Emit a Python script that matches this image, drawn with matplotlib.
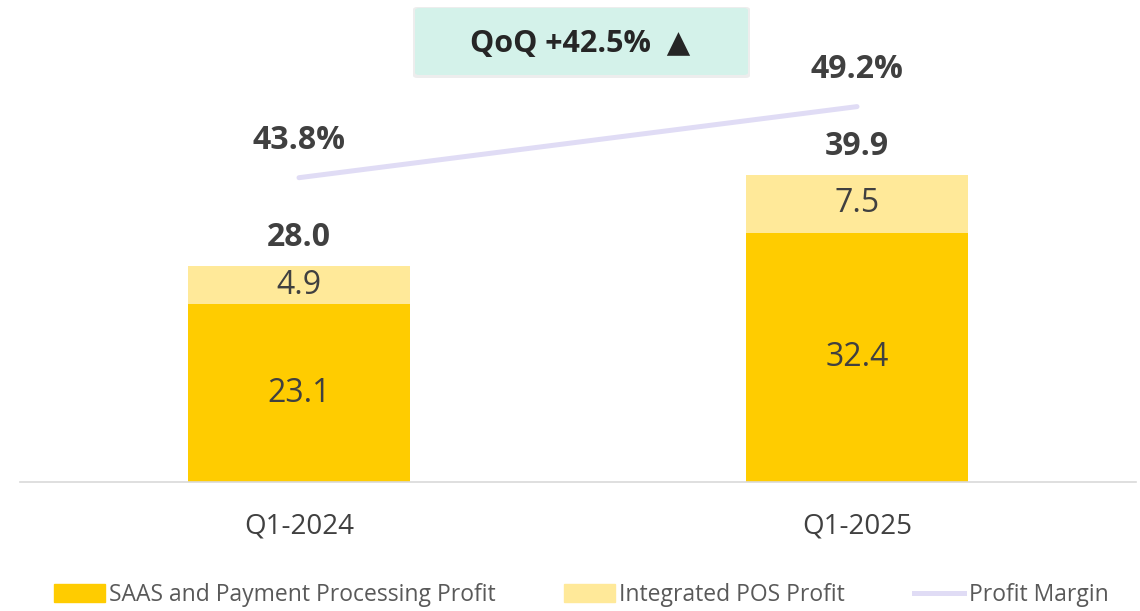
import matplotlib.pyplot as plt
from matplotlib.patches import Patch, FancyBboxPatch
from matplotlib.lines import Line2D

# data
quarters = ["Q1-2024", "Q1-2025"]
saas_profit = [23.1, 32.4]
pos_profit = [4.9, 7.5]
total_profit = [28.0, 39.9]
profit_margin = [43.8, 49.2]
qoq_text = "QoQ +42.5%  \u25B2"

c_saas = "#FFCC00"
c_pos = "#FFE999"
c_line = "#E0DCF5"
c_text = "#404040"

plt.rcParams['font.family'] = ['Open Sans', 'DejaVu Sans']

fig = plt.figure(figsize=(11.4, 6.11), dpi=100)
ax = fig.add_axes([20 / 1140, 129 / 611, 1116 / 1140, 482 / 611])
x = list(range(len(quarters)))
w = 0.398

ax.bar(x, saas_profit, width=w, color=c_saas)
ax.bar(x, pos_profit, width=w, bottom=saas_profit, color=c_pos)
ax.set_xlim(-0.5, 1.5)
ax.set_ylim(0, 62.6)

for i in x:
    ax.text(i, saas_profit[i] / 2, f"{saas_profit[i]:.1f}", ha="center", va="center",
            fontsize=23, color=c_text)
    ax.text(i, saas_profit[i] + pos_profit[i] / 2, f"{pos_profit[i]:.1f}", ha="center",
            va="center", fontsize=23, color=c_text)
    ax.text(i, total_profit[i] + 3.7, f"{total_profit[i]:.1f}", ha="center", va="center",
            fontsize=23, fontweight="bold", color=c_text)

# profit margin on secondary axis
ax2 = ax.twinx()
ax2.plot(x, profit_margin, color=c_line, linewidth=3.6, solid_capstyle="round")
ax2.set_ylim(20.68, 57.3)
for i in x:
    ax2.text(i, profit_margin[i] + 2.85, f"{profit_margin[i]:.1f}%", ha="center", va="center",
             fontsize=23, fontweight="bold", color=c_text)

for a in (ax, ax2):
    for s in ["top", "right", "left"]:
        a.spines[s].set_visible(False)
    a.set_yticks([])
ax2.spines["bottom"].set_visible(False)
ax.spines["bottom"].set_color("#D9D9D9")
ax.spines["bottom"].set_linewidth(1.2)
ax.set_xticks(x)
ax.set_xticklabels(quarters, fontsize=20, color=c_text)
ax.tick_params(axis="x", length=0, pad=22)

# QoQ box (with a faint shadow)
shadow = FancyBboxPatch((413 / 1140, 1 - 78 / 611), 337 / 1140, 71 / 611,
                        boxstyle="round,pad=0,rounding_size=0.004",
                        transform=fig.transFigure, facecolor="#EDEDED", edgecolor="none")
box = FancyBboxPatch((415 / 1140, 1 - 75 / 611), 333 / 1140, 67 / 611,
                     boxstyle="round,pad=0,rounding_size=0.004",
                     transform=fig.transFigure, facecolor="#D4F2EA", edgecolor="none")
fig.patches.append(shadow)
fig.patches.append(box)
fig.text(580 / 1140, 1 - 44 / 611, qoq_text, ha="center", va="center", fontsize=22,
         fontweight="bold", color="#262626")

handles = [Patch(color=c_saas), Patch(color=c_pos),
           Line2D([0], [0], color=c_line, linewidth=3.6)]
labels = ["SAAS and Payment Processing Profit", "Integrated POS Profit", "Profit Margin"]
fig.legend(handles, labels, loc="center", bbox_to_anchor=(0.51, 1 - 595 / 611), ncol=3,
           frameon=False, fontsize=16.5, labelcolor="#595959", handlelength=2.2,
           handleheight=0.8, handletextpad=0.2, columnspacing=3.0)

fig.savefig("out.png", dpi=100)
